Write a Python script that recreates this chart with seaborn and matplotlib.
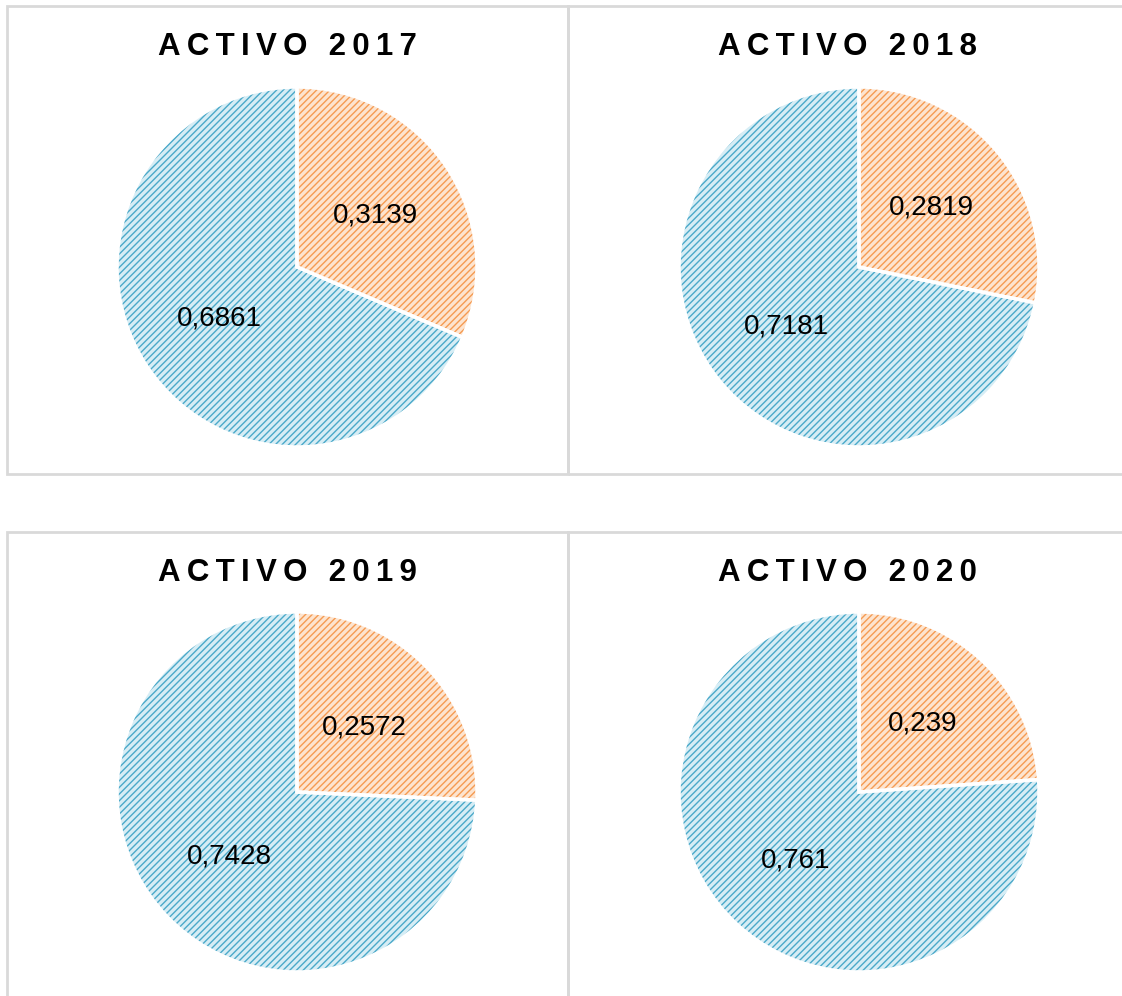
import numpy as np
import seaborn as sns
import matplotlib as mpl
mpl.use('Agg')
import matplotlib.pyplot as plt
from matplotlib.patches import Rectangle

# data
years = ['2017', '2018', '2019', '2020']
orange_share = [0.3139, 0.2819, 0.2572, 0.239]
blue_share = [0.6861, 0.7181, 0.7428, 0.761]

face_colors = ['#fde4cf', '#d6edf5']
hatch_colors = ['#f59b52', '#4aa9c9']

sns.set_theme(style='white')
plt.rcParams['font.family'] = ['Liberation Sans', 'DejaVu Sans']
plt.rcParams['hatch.linewidth'] = 1.0

W, H = 1122, 996
fig = plt.figure(figsize=(W / 100, H / 100), dpi=100)


def fx(px):
    return px / W


def fy(py):
    return 1 - py / H


def fmt(v):
    return str(v).replace('.', ',')


# panel frames (pixel boxes)
boxes = [(7, 6, 568, 474), (568, 6, 1130, 474), (7, 532, 568, 1004), (568, 532, 1130, 1004)]
for (x0, y0, x1, y1) in boxes:
    fig.add_artist(Rectangle((fx(x0), fy(y1)), fx(x1) - fx(x0), fy(y0) - fy(y1),
                             transform=fig.transFigure, fill=False,
                             edgecolor='#d9d9d9', lw=2, zorder=0))

centers = [(297, 267), (859, 267), (297, 792), (859, 792)]
R = 180
for i, yr in enumerate(years):
    cx, cy = centers[i]
    ax = fig.add_axes([fx(cx - R), fy(cy + R), fx(2 * R), (2 * R) / H])
    vals = [orange_share[i], blue_share[i]]
    labels = [fmt(v) for v in vals]
    wedges, texts = ax.pie(vals, colors=face_colors, startangle=90, counterclock=False,
                           labels=labels, labeldistance=0.52,
                           wedgeprops=dict(linewidth=0),
                           textprops=dict(fontsize=20, color='black', ha='center', va='center'))
    for w, hc in zip(wedges, hatch_colors):
        w.set_hatch('/////')
        w.set_edgecolor(hc)
    # white separators on top
    ax.pie(vals, colors=['none', 'none'], startangle=90, counterclock=False,
           wedgeprops=dict(linewidth=2.5, edgecolor='white', fill=False))
    for t in texts:
        t.set_zorder(5)
    ax.set_xlim(-1.0, 1.0)
    ax.set_ylim(-1.0, 1.0)
    ax.set_aspect('equal')
    ax.axis('off')
    bx0, by0, bx1, by1 = boxes[i]
    title = '\u2009'.join('ACTIVO ' + yr)
    fig.text(fx((bx0 + min(bx1, 1126)) / 2), fy(by0 + 41), title, ha='center', va='center',
             fontsize=22.5, fontweight='bold', color='black')

fig.savefig('out.png', dpi=100, facecolor='white')
